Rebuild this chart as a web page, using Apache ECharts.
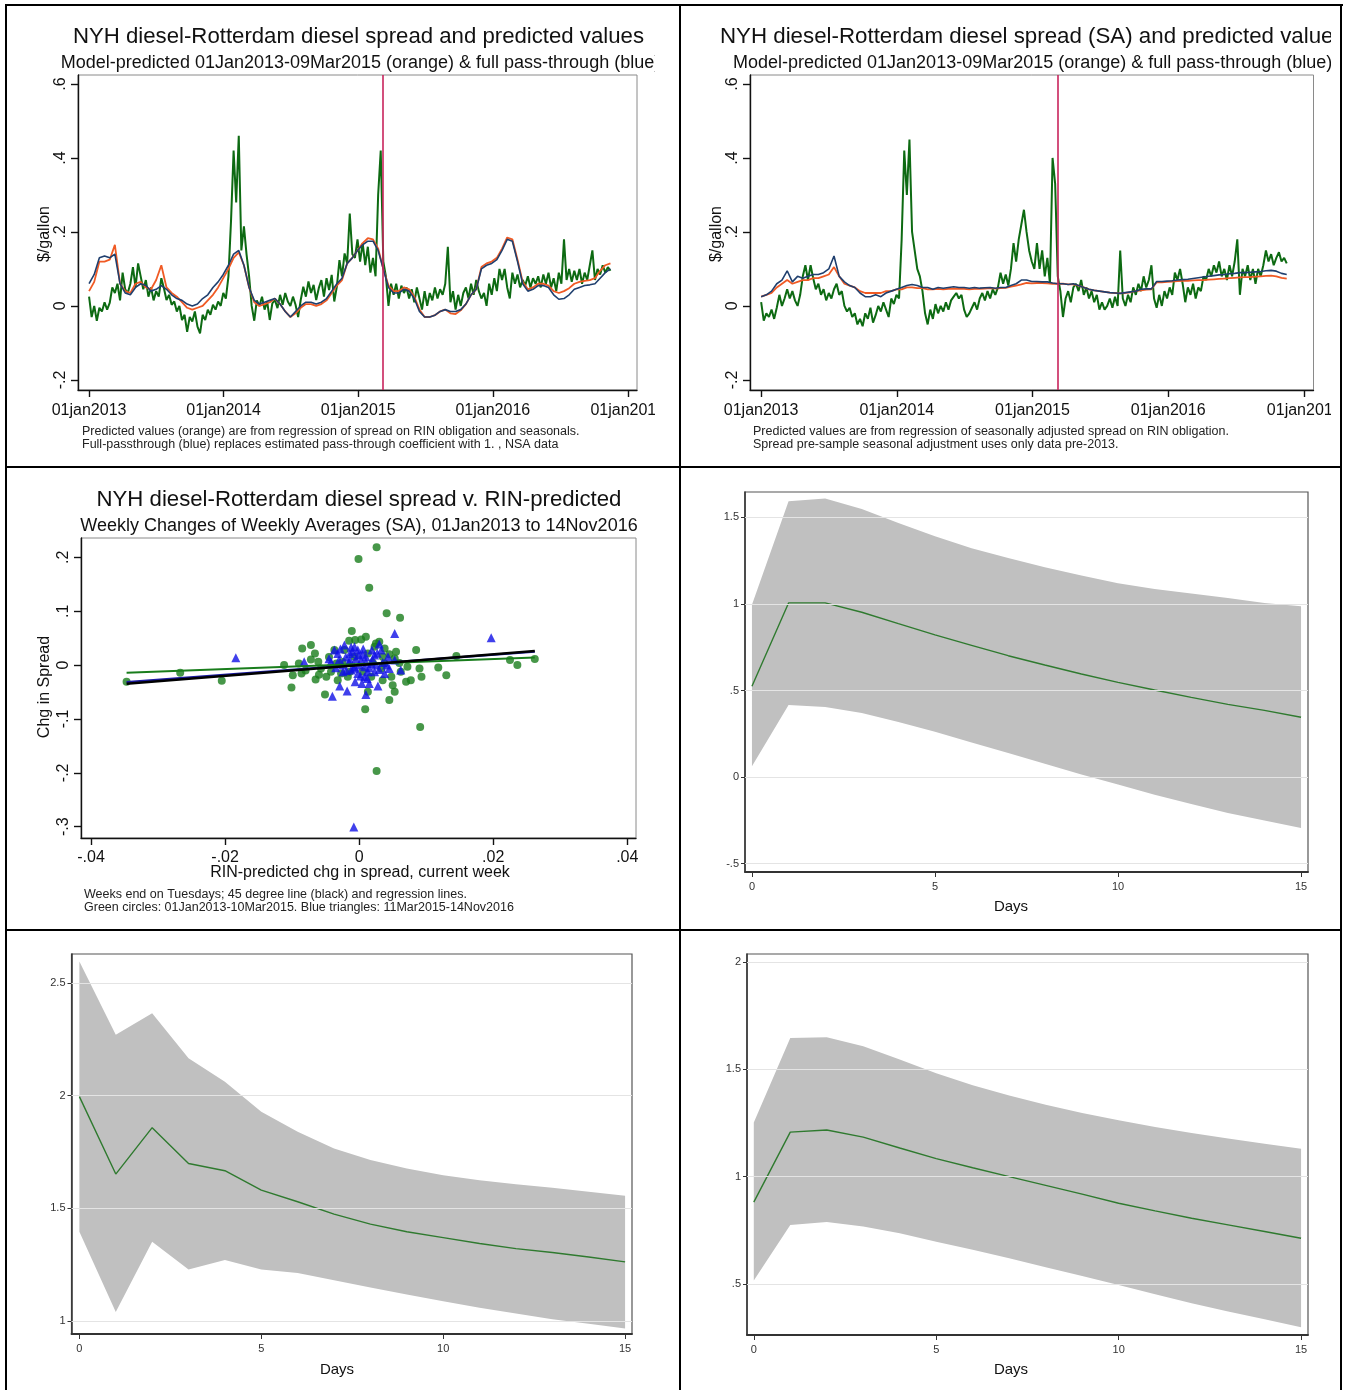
<!DOCTYPE html>
<html>
<head>
<meta charset="utf-8">
<title>NYH diesel - Rotterdam diesel spread</title>
<script src="https://cdn.jsdelivr.net/npm/echarts@6/dist/echarts.min.js"></script>
<style>
  html, body { margin: 0; padding: 0; background: #fff; }
  body { width: 1346px; height: 1390px; position: relative; overflow: hidden; }
  .cell { position: absolute; overflow: hidden; }
  .rule { position: absolute; background: #000; }
</style>
</head>
<body>
<div class="rule" style="left:5px;top:4px;width:1338px;height:2px"></div>
<div class="rule" style="left:5px;top:4px;width:2px;height:1386px"></div>
<div class="rule" style="left:1340px;top:4px;width:2px;height:1386px"></div>
<div class="rule" style="left:679px;top:4px;width:2px;height:1386px"></div>
<div class="rule" style="left:5px;top:466px;width:1337px;height:2px"></div>
<div class="rule" style="left:5px;top:929px;width:1337px;height:2px"></div>

<div class="cell" id="p1" style="left:7px;top:6px;width:648px;height:460px"></div>
<div class="cell" id="p2" style="left:681px;top:6px;width:650px;height:460px"></div>
<div class="cell" id="p3" style="left:7px;top:468px;width:672px;height:461px"></div>
<div class="cell" id="p4" style="left:681px;top:468px;width:659px;height:461px"></div>
<div class="cell" id="p5" style="left:7px;top:931px;width:672px;height:459px"></div>
<div class="cell" id="p6" style="left:681px;top:931px;width:659px;height:459px"></div>

<script>
// ---------- data ----------
// Daily spread sampled weekly from 01jan2013 (dollars per gallon), NSA
const spreadNSA = [
  0.025,-0.03,0.0,-0.04,-0.005,-0.015,0.01,-0.01,0.008,0.05,
  0.035,0.06,0.015,0.09,0.045,0.035,0.06,0.105,0.05,0.115,
  0.08,0.045,0.07,0.025,0.05,0.015,0.04,0.025,0.075,0.048,
  0.016,0.03,0.003,0.012,-0.015,0.0,-0.038,-0.024,-0.07,-0.03,
  -0.042,-0.015,-0.056,-0.074,-0.024,-0.038,-0.01,-0.024,0.003,-0.01,
  0.012,0.0,0.035,0.02,0.08,0.23,0.42,0.28,0.46,0.15,
  0.215,0.14,0.08,0.0,-0.04,0.015,0.0,0.025,-0.01,0.012,
  -0.038,0.007,0.016,-0.006,0.03,0.003,0.035,0.012,0.0,0.025,
  0.003,-0.03,0.016,0.052,0.025,0.066,0.035,0.057,0.016,0.048,
  0.07,0.025,0.075,0.043,0.084,0.012,0.052,0.124,0.08,0.142,
  0.115,0.25,0.14,0.13,0.18,0.12,0.17,0.11,0.16,0.09,
  0.13,0.08,0.30,0.42,0.12,0.08,0.0,0.06,0.03,0.06,
  0.02,0.055,0.035,0.05,0.02,0.045,0.01,0.05,0.02,-0.01,
  0.04,0.0,0.035,0.015,0.05,0.02,0.045,0.03,0.06,0.16,
  0.01,0.04,-0.01,0.03,0.0,0.035,0.05,0.02,0.06,0.03,
  0.07,0.04,0.02,0.035,0.0,0.06,0.03,0.075,0.04,0.1,
  0.07,0.1,0.05,0.02,0.09,0.06,0.085,0.05,0.07,0.055,
  0.08,0.05,0.075,0.06,0.08,0.05,0.085,0.06,0.09,0.05,
  0.075,0.04,0.09,0.06,0.18,0.07,0.1,0.065,0.095,0.07,
  0.1,0.06,0.09,0.07,0.11,0.15,0.07,0.1,0.085,0.11,
  0.09,0.105,0.095
];
// Model-predicted (orange) and full pass-through (blue), every two weeks, NSA
const predNSA = [
  0.04,0.065,0.12,0.12,0.125,0.165,0.06,0.04,0.035,0.06,
  0.065,0.05,0.045,0.07,0.11,0.05,0.035,0.025,0.01,-0.005,
  -0.01,-0.005,0.0,0.015,0.03,0.05,0.075,0.1,0.13,0.145,
  0.11,0.05,0.01,0.0,0.005,0.01,0.02,0.005,-0.015,-0.03,
  -0.02,-0.005,0.005,0.005,0.0,0.005,0.015,0.035,0.055,0.07,
  0.115,0.13,0.15,0.17,0.183,0.18,0.155,0.1,0.055,0.04,
  0.04,0.05,0.045,0.025,-0.01,-0.03,-0.03,-0.025,-0.015,-0.01,
  -0.02,-0.022,-0.012,0.005,0.03,0.045,0.105,0.115,0.12,0.13,
  0.155,0.185,0.18,0.125,0.065,0.045,0.05,0.06,0.06,0.055,
  0.04,0.035,0.04,0.048,0.06,0.065,0.068,0.07,0.075,0.095,
  0.11,0.115
];
const fullNSA = [
  0.06,0.085,0.13,0.135,0.13,0.14,0.06,0.035,0.03,0.05,
  0.06,0.055,0.04,0.045,0.055,0.045,0.03,0.02,0.015,0.005,
  0.0,0.005,0.02,0.03,0.05,0.065,0.085,0.11,0.14,0.15,
  0.11,0.05,0.015,0.005,0.01,0.015,0.02,0.005,-0.015,-0.03,
  -0.015,0.0,0.01,0.01,0.005,0.01,0.02,0.04,0.06,0.075,
  0.115,0.13,0.15,0.165,0.175,0.175,0.15,0.1,0.05,0.035,
  0.035,0.045,0.04,0.02,-0.015,-0.03,-0.03,-0.025,-0.015,-0.01,
  -0.015,-0.015,-0.01,0.005,0.03,0.045,0.1,0.11,0.115,0.125,
  0.15,0.18,0.175,0.12,0.06,0.04,0.045,0.055,0.055,0.05,
  0.03,0.018,0.02,0.03,0.045,0.05,0.055,0.057,0.06,0.075,
  0.09,0.1
];
// Seasonally adjusted spread, weekly
const spreadSA = [
  0.01,-0.04,-0.02,-0.03,-0.01,-0.035,-0.005,0.03,0.0,0.02,
  0.045,0.02,0.04,0.015,0.0,0.03,0.08,0.11,0.07,0.11,
  0.075,0.045,0.06,0.03,0.045,0.015,0.035,0.02,0.045,0.06,
  0.03,0.04,0.0,-0.015,-0.005,-0.03,-0.02,-0.05,-0.035,-0.055,
  -0.02,-0.035,-0.005,-0.045,-0.025,0.0,-0.015,0.01,-0.01,-0.03,
  0.02,0.005,0.03,0.02,0.18,0.42,0.3,0.45,0.2,0.15,
  0.1,0.08,0.04,-0.02,-0.05,-0.01,-0.035,0.005,-0.02,0.0,
  -0.015,0.01,-0.01,0.015,0.025,0.035,0.02,0.03,-0.01,-0.03,
  -0.02,-0.005,0.01,-0.01,0.02,0.035,0.015,0.04,0.02,0.045,
  0.03,0.05,0.09,0.06,0.085,0.055,0.1,0.17,0.12,0.18,
  0.22,0.26,0.2,0.15,0.12,0.1,0.17,0.1,0.15,0.08,
  0.13,0.06,0.4,0.33,0.08,0.04,-0.03,0.02,0.04,0.01,
  0.05,0.06,0.04,0.07,0.03,0.05,0.02,0.04,0.01,0.03,
  -0.01,0.01,-0.01,0.0,0.02,-0.005,0.025,0.0,0.15,0.02,
  0.0,0.03,0.01,0.05,0.03,0.06,0.04,0.08,0.05,0.07,
  0.11,0.02,-0.005,0.03,0.0,0.04,0.02,0.05,0.03,0.09,
  0.07,0.1,0.06,0.01,0.05,0.03,0.06,0.02,0.05,0.04,
  0.08,0.07,0.1,0.08,0.11,0.09,0.12,0.08,0.1,0.07,
  0.11,0.08,0.12,0.18,0.03,0.1,0.08,0.11,0.07,0.1,
  0.06,0.1,0.08,0.11,0.15,0.12,0.14,0.11,0.13,0.145,
  0.12,0.13,0.115
];
const predSA = [
  0.025,0.03,0.035,0.05,0.06,0.07,0.06,0.065,0.07,0.07,
  0.075,0.075,0.08,0.085,0.105,0.08,0.06,0.055,0.05,0.04,
  0.035,0.035,0.035,0.035,0.04,0.04,0.045,0.045,0.05,0.05,
  0.048,0.048,0.045,0.045,0.046,0.045,0.046,0.047,0.046,0.046,
  0.045,0.046,0.046,0.047,0.048,0.047,0.048,0.049,0.052,0.055,
  0.058,0.062,0.061,0.062,0.062,0.061,0.06,0.06,0.06,0.058,
  0.058,0.055,0.05,0.045,0.042,0.04,0.038,0.036,0.035,0.034,
  0.035,0.037,0.04,0.042,0.044,0.045,0.064,0.064,0.065,0.066,
  0.067,0.068,0.068,0.069,0.07,0.07,0.071,0.072,0.073,0.074,
  0.075,0.076,0.077,0.078,0.078,0.079,0.08,0.081,0.082,0.08,
  0.076,0.074
];
const fullSA = [
  0.025,0.03,0.04,0.06,0.07,0.095,0.065,0.08,0.075,0.08,
  0.085,0.085,0.09,0.1,0.135,0.08,0.065,0.055,0.05,0.035,
  0.025,0.025,0.03,0.025,0.035,0.04,0.045,0.05,0.055,0.058,
  0.055,0.05,0.05,0.045,0.05,0.048,0.05,0.052,0.05,0.05,
  0.048,0.05,0.048,0.049,0.05,0.048,0.05,0.05,0.055,0.06,
  0.07,0.07,0.066,0.066,0.065,0.065,0.062,0.06,0.06,0.058,
  0.06,0.055,0.05,0.045,0.042,0.04,0.038,0.036,0.035,0.034,
  0.036,0.038,0.04,0.045,0.046,0.046,0.066,0.066,0.067,0.068,
  0.07,0.071,0.072,0.074,0.076,0.078,0.08,0.082,0.084,0.085,
  0.087,0.088,0.09,0.09,0.091,0.092,0.093,0.095,0.096,0.094,
  0.088,0.085
];
const startDate = '2013-01-01';
const breakDate = '2015-03-09';
const yearTickDates = ['2013-01-01','2014-01-01','2015-01-01','2016-01-01','2017-01-01'];
const yearTickLabels = ['01jan2013','01jan2014','01jan2015','01jan2016','01jan2017'];
const spreadTicks = [-0.2, 0, 0.2, 0.4, 0.6];
const spreadTickLabels = ['-.2','0','.2','.4','.6'];

// Weekly changes: green circles (01Jan2013-10Mar2015), blue triangles (11Mar2015-14Nov2016)
const circlesPre = [
  [-0.0347,-0.031],[-0.0267,-0.0143],[-0.0205,-0.0291],[-0.0112,0.0],[-0.0101,-0.0415],
  [-0.0085,0.031],[-0.0072,0.0372],[-0.0066,0.0217],[-0.0072,0.0105],[-0.0099,-0.0186],
  [-0.0086,-0.0155],[-0.0065,-0.0266],[-0.0051,-0.0545],[-0.0049,-0.0217],[-0.0037,0.0279],
  [-0.0011,0.0632],[-0.0001,0.197],[0.0026,0.2187],[0.0015,0.1437],[0.0041,0.0961],
  [0.0061,0.0879],[0.001,0.0526],[0.0003,0.0477],[-0.0006,0.0465],[0.003,0.0434],
  [0.0055,0.0248],[0.0053,0.0124],[0.0085,0.0279],[0.009,-0.0062],[0.0093,-0.0217],
  [0.007,-0.031],[0.0077,-0.0279],[0.005,-0.0372],[0.0045,-0.065],[0.0009,-0.0818],
  [0.0026,-0.1964],[0.0091,-0.115],[0.0118,-0.0043],[0.013,-0.0186],[0.0145,0.0167],
  [0.0225,0.0093],[0.0236,0.0],[0.0262,0.0112],[-0.0027,-0.0155],[-0.0034,0.0031],
  [-0.0014,-0.0124],[0.0018,-0.0217],[0.0033,-0.0062],[0.0038,0.0031],[0.0048,-0.0217],
  [0.0062,-0.0124],[-0.0057,-0.0062],[-0.0042,-0.0124],[-0.0022,0.0279],[0.0013,0.0217],
  [0.0023,0.034],[0.0038,0.031],[-0.0017,-0.0217],[-0.0007,0.0155],[0.0053,-0.0496],
  [-0.0032,-0.0279],[0.0072,-0.0031],[-0.0061,0.0062],[0.0013,-0.0496],[0.0035,0.0155],
  [-0.009,0.003],[-0.008,-0.01],[-0.0045,0.015],[-0.0025,0.006],[0.0005,-0.012],
  [0.002,0.005],[0.0035,-0.028],[0.006,0.004],[0.0045,0.02],[-0.006,-0.018],
  [0.0025,0.04],[-0.0015,0.045]
];
const trianglesPost = [
  [-0.0184,0.0136],[-0.0082,0.0062],[0.0053,0.0589],[0.0197,0.0508],[-0.0008,-0.3005],
  [-0.004,-0.0576],[-0.0029,-0.039],[-0.0018,-0.0483],[0.001,-0.0545],[0.0015,-0.034],
  [0.0028,-0.039],[0.0004,-0.034],[-0.0006,-0.031],[-0.0037,0.0279],[-0.0032,0.0217],
  [-0.0022,0.0372],[-0.0007,0.034],[-0.0002,0.0279],[0.003,0.039],[0.0033,0.0279],
  [0.0023,0.0186],[0.0043,0.0155],[0.0053,0.0093],[0.0062,-0.0093],[0.0003,0.0093],
  [0.0008,-0.0031],[0.0013,-0.0124],[-0.0007,-0.0031],[-0.0014,0.0093],[0.0018,0.0031],
  [0.0023,-0.0124],[0.0038,-0.0155],[-0.0002,-0.0155],[-0.0024,-0.0124],[-0.0042,0.0062],
  [-0.0014,0.0217],[0.001,0.0155],[0.0045,-0.0062],[0.0008,-0.0217],[-0.0012,-0.0093],
  [0.0019,0.0279],[-0.0001,0.0186],
  [-0.003,0.01],[-0.0025,0.0],[-0.002,0.015],[-0.0015,0.005],[-0.001,0.025],
  [-0.0005,0.012],[0.0,0.0],[0.0005,0.02],[0.001,0.006],[0.0015,-0.005],
  [0.002,0.01],[0.0025,0.0],[0.003,-0.008],[0.0035,0.005],[-0.0035,-0.005],
  [-0.0028,0.03],[-0.0012,0.033],[0.0002,-0.02],[0.0012,-0.025],[0.0027,0.022],
  [-0.0045,0.012],[0.0041,0.0],[-0.0019,-0.01],[0.0006,0.03],[-0.0008,-0.006]
];
// Regression lines: [intercept, slope]
const fitPre = [0.002, 0.47];
const fitPost = [0.0005, 0.93];
const fitRange = [-0.0347, 0.0262];
const chgXTicks = [-0.04, -0.02, 0, 0.02, 0.04];
const chgXLabels = ['-.04','-.02','0','.02','.04'];
const chgYTicks = [-0.3, -0.2, -0.1, 0, 0.1, 0.2];
const chgYLabels = ['-.3','-.2','-.1','0','.1','.2'];

// Impulse responses over 0..15 days with confidence bands
const days = [0,1,2,3,4,5,6,7,8,9,10,11,12,13,14,15];
const dayTicks = [0, 5, 10, 15];
const irfA = [0.524,1.006,1.006,0.952,0.886,0.821,0.761,0.701,0.647,0.595,0.547,0.503,0.46,0.42,0.385,0.345];
const irfAHi = [0.996,1.593,1.609,1.549,1.468,1.391,1.322,1.266,1.212,1.164,1.119,1.087,1.06,1.035,1.006,0.987];
const irfALo = [0.062,0.416,0.405,0.37,0.318,0.262,0.2,0.139,0.077,0.015,-0.044,-0.102,-0.156,-0.208,-0.252,-0.295];
const irfATicks = [-0.5, 0, 0.5, 1, 1.5];
const irfATickLabels = ['-.5','0','.5','1','1.5'];
const irfB = [1.996,1.652,1.858,1.699,1.667,1.581,1.529,1.474,1.43,1.396,1.37,1.344,1.321,1.304,1.284,1.262];
const irfBHi = [2.596,2.27,2.366,2.166,2.062,1.929,1.84,1.766,1.714,1.677,1.647,1.625,1.607,1.591,1.573,1.556];
const irfBLo = [1.396,1.04,1.351,1.228,1.27,1.228,1.213,1.181,1.148,1.117,1.087,1.058,1.033,1.007,0.988,0.966];
const irfBTicks = [1, 1.5, 2, 2.5];
const irfBTickLabels = ['1','1.5','2','2.5'];
const irfC = [0.881,1.207,1.217,1.184,1.133,1.084,1.041,1.0,0.959,0.918,0.876,0.84,0.806,0.775,0.744,0.713];
const irfCHi = [1.252,1.646,1.649,1.607,1.545,1.482,1.425,1.378,1.335,1.296,1.262,1.231,1.203,1.178,1.153,1.13];
const irfCLo = [0.516,0.775,0.788,0.767,0.736,0.697,0.659,0.62,0.578,0.537,0.495,0.452,0.41,0.371,0.335,0.298];
const irfCTicks = [0.5, 1, 1.5, 2];
const irfCTickLabels = ['.5','1','1.5','2'];

// ---------- helpers ----------
const FONT = '"Liberation Sans", Arial, Helvetica, sans-serif';
const DAY_MS = 86400000;
function dayIndex(s) { return Math.round((Date.parse(s) - Date.parse(startDate)) / DAY_MS); }
const yearTickDays = yearTickDates.map(dayIndex);
const breakDay = dayIndex(breakDate);

function label(x, y, text, size, o) {
  o = o || {};
  return {
    type: 'text', x: x, y: y, rotation: o.rot || 0, silent: true, z: 100,
    style: {
      text: text, font: size + 'px ' + FONT, fill: o.color || '#111',
      textAlign: o.align || 'left', textVerticalAlign: 'middle',
      align: o.align || 'left', verticalAlign: 'middle'
    }
  };
}
function pick(ticks, labels) {
  return function (v) {
    for (let i = 0; i < ticks.length; i++) if (Math.abs(ticks[i] - v) < 1e-9) return labels[i];
    return '';
  };
}
function gridBox(g, color, width) {
  return { left: g[0], top: g[1], width: g[2], height: g[3], outerBoundsMode: 'none',
           containLabel: false, show: true, borderColor: color, borderWidth: width };
}
const axisDark = { color: '#111', width: 1.4 };

// ---------- spread time-series panels ----------
function spreadPanel(id, o) {
  const chart = echarts.init(document.getElementById(id));
  chart.setOption({
    animation: false,
    grid: gridBox(o.grid, '#8a8a8a', 1),
    xAxis: {
      type: 'value', min: -30, max: 1486,
      axisLine: { show: true, onZero: false, lineStyle: axisDark },
      axisTick: { show: true, customValues: yearTickDays, length: 7, lineStyle: axisDark },
      axisLabel: { customValues: yearTickDays, formatter: pick(yearTickDays, yearTickLabels),
                   fontSize: 16, fontFamily: FONT, color: '#111', margin: 13, hideOverlap: false },
      splitLine: { show: false }
    },
    yAxis: {
      type: 'value', min: -0.2273, max: 0.6243,
      axisLine: { show: true, onZero: false, lineStyle: axisDark },
      axisTick: { show: true, customValues: spreadTicks, length: 7, lineStyle: axisDark },
      axisLabel: { customValues: spreadTicks, formatter: pick(spreadTicks, spreadTickLabels),
                   rotate: 90, fontSize: 16, fontFamily: FONT, color: '#111', margin: 9 },
      splitLine: { show: false }
    },
    series: [
      { type: 'line', data: o.spread.map((v, i) => [i * 7, v]), showSymbol: false,
        lineStyle: { color: '#0d6a12', width: 2 }, z: 2, silent: true },
      { type: 'line', data: o.pred.map((v, i) => [i * 14, v]), showSymbol: false,
        lineStyle: { color: '#f05a24', width: 1.8 }, z: 3, silent: true },
      { type: 'line', data: o.full.map((v, i) => [i * 14, v]), showSymbol: false,
        lineStyle: { color: '#1f3f6e', width: 1.6 }, z: 4, silent: true,
        markLine: { silent: true, symbol: 'none', label: { show: false },
                    lineStyle: { color: '#c8245c', width: 1.6, type: 'solid' },
                    data: [{ xAxis: breakDay }] } }
    ],
    graphic: o.texts
  });
}

spreadPanel('p1', {
  grid: [71, 69, 559, 315],
  spread: spreadNSA, pred: predNSA, full: fullNSA,
  texts: [
    label(351.5, 31, 'NYH diesel-Rotterdam diesel spread and predicted values', 22.2, { align: 'center' }),
    label(353.5, 57, 'Model-predicted 01Jan2013-09Mar2015 (orange) & full pass-through (blue)', 18, { align: 'center' }),
    label(38, 228, '$/gallon', 16, { align: 'center', rot: Math.PI / 2 }),
    label(75, 426, 'Predicted values (orange) are from regression of spread on RIN obligation and seasonals.', 12.5, { color: '#222' }),
    label(75, 439, 'Full-passthrough (blue) replaces estimated pass-through coefficient with 1. , NSA data', 12.5, { color: '#222' })
  ]
});

spreadPanel('p2', {
  grid: [69, 69, 563.5, 315],
  spread: spreadSA, pred: predSA, full: fullSA,
  texts: [
    label(39, 31, 'NYH diesel-Rotterdam diesel spread (SA) and predicted values', 22.3),
    label(52, 57, 'Model-predicted 01Jan2013-09Mar2015 (orange) & full pass-through (blue)', 18),
    label(36, 228, '$/gallon', 16, { align: 'center', rot: Math.PI / 2 }),
    label(72, 426, 'Predicted values are from regression of seasonally adjusted spread on RIN obligation.', 12.5, { color: '#222' }),
    label(72, 439, 'Spread pre-sample seasonal adjustment uses only data pre-2013.', 12.5, { color: '#222' })
  ]
});

// ---------- weekly-change scatter ----------
(function () {
  const chart = echarts.init(document.getElementById('p3'));
  const fitLine = (f) => fitRange.map(x => [x, f[0] + f[1] * x]);
  chart.setOption({
    animation: false,
    grid: gridBox([74, 70, 555, 300], '#8a8a8a', 1),
    xAxis: {
      type: 'value', min: -0.0415, max: 0.0413,
      axisLine: { show: true, onZero: false, lineStyle: axisDark },
      axisTick: { show: true, customValues: chgXTicks, length: 7, lineStyle: axisDark },
      axisLabel: { customValues: chgXTicks, formatter: pick(chgXTicks, chgXLabels),
                   fontSize: 16, fontFamily: FONT, color: '#111', margin: 12 },
      splitLine: { show: false }
    },
    yAxis: {
      type: 'value', min: -0.321, max: 0.236,
      axisLine: { show: true, onZero: false, lineStyle: axisDark },
      axisTick: { show: true, customValues: chgYTicks, length: 7, lineStyle: axisDark },
      axisLabel: { customValues: chgYTicks, formatter: pick(chgYTicks, chgYLabels),
                   rotate: 90, fontSize: 16, fontFamily: FONT, color: '#111', margin: 9 },
      splitLine: { show: false }
    },
    series: [
      { type: 'scatter', data: circlesPre, symbol: 'circle', symbolSize: 8,
        itemStyle: { color: '#197d1c' }, z: 2, silent: true },
      { type: 'scatter', data: trianglesPost, symbol: 'triangle', symbolSize: 9,
        itemStyle: { color: '#1010e6' }, z: 3, silent: true },
      { type: 'line', data: fitLine(fitPost), showSymbol: false,
        lineStyle: { color: '#1a1aa0', width: 2.2 }, z: 4, silent: true },
      { type: 'line', data: fitLine(fitPre), showSymbol: false,
        lineStyle: { color: '#197d1c', width: 2 }, z: 5, silent: true },
      { type: 'line', data: fitLine([0, 1]), showSymbol: false,
        lineStyle: { color: '#000', width: 2.6 }, z: 6, silent: true }
    ],
    graphic: [
      label(352, 32, 'NYH diesel-Rotterdam diesel spread v. RIN-predicted', 22.2, { align: 'center' }),
      label(352, 58, 'Weekly Changes of Weekly Averages (SA), 01Jan2013 to 14Nov2016', 18, { align: 'center' }),
      label(353, 405, 'RIN-predicted chg in spread, current week', 16, { align: 'center' }),
      label(38, 219, 'Chg in Spread', 16, { align: 'center', rot: Math.PI / 2 }),
      label(77, 427, 'Weeks end on Tuesdays; 45 degree line (black) and regression lines.', 12.5, { color: '#222' }),
      label(77, 440, 'Green circles: 01Jan2013-10Mar2015. Blue triangles: 11Mar2015-14Nov2016', 12.5, { color: '#222' })
    ]
  });
})();

// ---------- impulse-response panels ----------
function irfPanel(id, o) {
  const chart = echarts.init(document.getElementById(id));
  const mid = o.mid, hi = o.hi, lo = o.lo;
  chart.setOption({
    animation: false,
    grid: gridBox(o.grid, '#555', 1.2),
    xAxis: {
      type: 'value', min: o.x[0], max: o.x[1],
      axisLine: { show: true, onZero: false, lineStyle: { color: '#333', width: 1.8 } },
      axisTick: { show: true, customValues: dayTicks, length: 5, lineStyle: { color: '#333', width: 1 } },
      axisLabel: { customValues: dayTicks, fontSize: 11, fontFamily: FONT, color: '#333', margin: 9 },
      splitLine: { show: false }
    },
    yAxis: {
      type: 'value', min: o.y[0], max: o.y[1],
      axisLine: { show: true, onZero: false, lineStyle: { color: '#333', width: 1.5 } },
      axisTick: { show: true, customValues: o.ticks, length: 4, lineStyle: { color: '#333', width: 1 } },
      axisLabel: { customValues: o.ticks, formatter: pick(o.ticks, o.tickLabels),
                   fontSize: 11, fontFamily: FONT, color: '#333', margin: 6 },
      splitLine: { show: false }
    },
    series: [
      { type: 'line', data: [], silent: true, z: 0,
        markLine: { silent: true, symbol: 'none', label: { show: false },
                    lineStyle: { color: '#e4e4e4', width: 1.2, type: 'solid' },
                    data: o.ticks.map(v => ({ yAxis: v })) } },
      { type: 'custom', silent: true, z: 1,
        data: days.map((d, i) => [d, lo[i], hi[i]]),
        encode: { x: 0, y: [1, 2] },
        renderItem: function (params, api) {
          if (params.dataIndex !== 0) return null;
          const pts = [];
          for (let i = 0; i < days.length; i++) pts.push(api.coord([days[i], hi[i]]));
          for (let i = days.length - 1; i >= 0; i--) pts.push(api.coord([days[i], lo[i]]));
          return { type: 'polygon', shape: { points: pts }, style: { fill: '#c0c0c0' } };
        } },
      { type: 'line', data: days.map((d, i) => [d, mid[i]]), showSymbol: false, silent: true, z: 2,
        lineStyle: { color: '#2f7a2f', width: 1.4 } }
    ],
    graphic: [ label(330, 439, 'Days', 15, { align: 'center' }) ]
  });
}

irfPanel('p4', { grid: [64, 24, 563, 380], x: [-0.19, 15.19], y: [-0.549, 1.647],
  mid: irfA, hi: irfAHi, lo: irfALo, ticks: irfATicks, tickLabels: irfATickLabels });
irfPanel('p5', { grid: [64.5, 23, 560.5, 380], x: [-0.217, 15.19], y: [0.942, 2.629],
  mid: irfB, hi: irfBHi, lo: irfBLo, ticks: irfBTicks, tickLabels: irfBTickLabels });
irfPanel('p6', { grid: [66, 23, 561, 381], x: [-0.186, 15.19], y: [0.262, 2.037],
  mid: irfC, hi: irfCHi, lo: irfCLo, ticks: irfCTicks, tickLabels: irfCTickLabels });
</script>
</body>
</html>
